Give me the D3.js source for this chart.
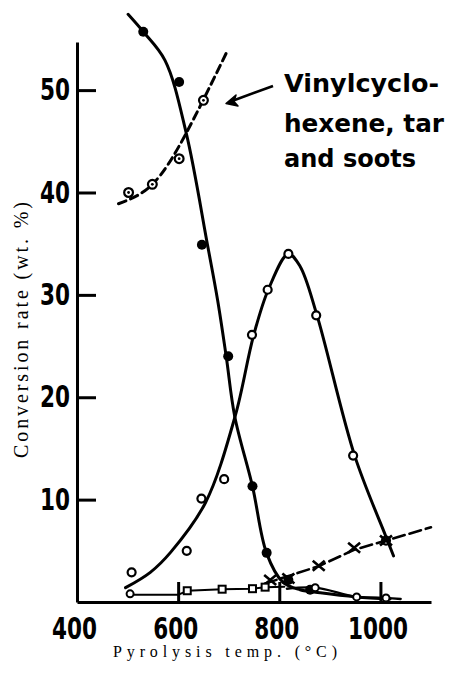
<!DOCTYPE html>
<html>
<head>
<meta charset="utf-8">
<script src="https://cdn.jsdelivr.net/npm/d3@7"></script>
<style>
    html, body { margin: 0; padding: 0; background: #fff; }
    svg { display: block; }
    .axis path, .axis line { stroke: #000; stroke-width: 3; }
    .axis text { font-family: "DejaVu Sans", sans-serif; font-weight: bold; font-size: 30px; fill: #000; }
    .title { font-family: "Liberation Serif", "DejaVu Serif", serif; fill: #000; }
    .note { font-family: "DejaVu Sans", sans-serif; font-weight: bold; font-size: 24px; fill: #000; }
</style>
</head>
<body>
<div id="chart"></div>
<script>
/*
 * Values: pyrolysis temperature (°C) / conversion rate (wt. %).
 */
var tempTicks = [400, 600, 800, 1000];
var rateTicks = [10, 20, 30, 40, 50];

// Vinylcyclohexene, tar and soots (dotted circles, dashed curve)
var vinylTemps = [502, 549, 602, 650];
var vinylRates = [40.0, 40.8, 43.3, 49.0];
var vinylCurveTemps = [482, 549, 616, 695];
var vinylCurveRates = [38.9, 40.8, 45.8, 53.6];

// Falling curve (filled circles)
var fallTemps = [531, 602, 647, 699, 747, 775, 818, 861];
var fallRates = [55.7, 50.8, 34.9, 24.0, 11.3, 4.8, 2.15, 1.2];
var fallCurveTemps = [501, 531, 574, 616, 658, 678, 695, 712, 747, 775, 807, 841, 881, 952, 1019];
var fallCurveRates = [57.4, 55.7, 52.9, 45.8, 34.9, 29.5, 24.0, 18.1, 11.3, 4.75, 1.95, 1.2, 0.9, 0.5, 0.3];

// Peaked curve (open circles)
var peakTemps = [508, 617, 646, 691, 746, 777, 818, 873, 946];
var peakRates = [2.9, 5.0, 10.1, 12.0, 26.1, 30.5, 34.0, 28.0, 14.3];
var peakCurveTemps = [496, 545, 585, 654, 713, 749, 779, 818, 841, 874, 949, 1010, 1026];
var peakCurveRates = [1.4, 2.9, 4.85, 9.7, 18.2, 26.0, 30.6, 34.0, 32.8, 28.1, 14.3, 6.5, 4.5];

// Rising line (crosses)
var crossTemps = [782, 818, 878, 948];
var crossRates = [2.15, 2.3, 3.55, 5.3];
var crossLineTemps = [772, 878, 948, 1011, 1100];
var crossLineRates = [1.8, 3.5, 5.1, 6.0, 7.3];
var crossRingTemps = [1011];
var crossRingRates = [6.0];

// Low lines near the base (small circles and squares)
var squareTemps = [618, 687, 747, 772];
var squareRates = [1.1, 1.25, 1.3, 1.45];
var lowLineTemps = [505, 600, 618, 687, 747, 772, 810];
var lowLineRates = [0.7, 0.7, 1.1, 1.25, 1.3, 1.45, 1.5];
var dotTemps = [505, 871, 953, 1011];
var dotRates = [0.8, 1.4, 0.5, 0.4];
var tailLineTemps = [815, 871, 953, 1011, 1040];
var tailLineRates = [1.3, 1.4, 0.5, 0.4, 0.3];

var noteLines = ['Vinylcyclo-', 'hexene, tar', 'and soots'];
var xTitle = 'Pyrolysis temp. (°C)';
var yTitle = 'Conversion rate (wt. %)';


/**
 * Pairs two value lists into points.
 * @param {Number[]} xs
 * @param {Number[]} ys
 * @returns {Number[][]}
 */
function zip(xs, ys) {

    return xs.map(function(x, i) { return [x, ys[i]]; });
}


/**
 * @public
 * @class
 */
function PyrolysisChart() {
    /*
     * Canvas size.
     */
    this._width  = 449;
    this._height = 687;
    /*
     * Scales.
     */
    this._x = d3.scaleLinear().domain([400, 1100]).range([77, 431]);
    this._y = d3.scaleLinear().domain([0, 54.7]).range([602, 42]);
    /*
     * Curve generators.
     */
    this._smooth = d3.line()
        .x(d => this._x(d[0]))
        .y(d => this._y(d[1]))
        .curve(d3.curveCatmullRom.alpha(0.5));
    this._natural = d3.line()
        .x(d => this._x(d[0]))
        .y(d => this._y(d[1]))
        .curve(d3.curveNatural);
    this._straight = d3.line()
        .x(d => this._x(d[0]))
        .y(d => this._y(d[1]));
}


/**
 * Render chart.
 * @public
 * @param {String} selection
 * @returns {PyrolysisChart}
 */
PyrolysisChart.prototype.renderTo = function(selection) {

    this._svg = d3.select(selection).append('svg')
        .attr('width', this._width)
        .attr('height', this._height);

    this._drawAxes();
    this._drawCurves();
    this._drawMarkers();
    this._drawNote();

    return this;
};


/**
 * Axes, ticks pointing inward, and titles.
 * @private
 */
PyrolysisChart.prototype._drawAxes = function() {

    var svg = this._svg;

    svg.append('g')
        .attr('class', 'axis')
        .attr('transform', 'translate(0,' + this._y(0) + ')')
        .call(d3.axisBottom(this._x)
            .tickValues(tempTicks)
            .tickSizeInner(-20)
            .tickSizeOuter(0)
            .tickPadding(0)
            .tickFormat(d3.format('d')))
        .selectAll('text')
        .attr('y', 37)
        .attr('dy', null)
        .attr('dx', -3);

    svg.append('g')
        .attr('class', 'axis')
        .attr('transform', 'translate(' + this._x(400) + ',0)')
        .call(d3.axisLeft(this._y)
            .tickValues(rateTicks)
            .tickSizeInner(-19)
            .tickSizeOuter(0)
            .tickPadding(7)
            .tickFormat(d3.format('d')));

    /*
     * Narrow the bold digits to the printed width.
     */
    svg.selectAll('.axis text')
        .attr('textLength', d => String(d).length * 15)
        .attr('lengthAdjust', 'spacingAndGlyphs');

    svg.append('text')
        .attr('class', 'title')
        .attr('x', 225)
        .attr('y', 657)
        .attr('font-size', 16)
        .attr('text-anchor', 'middle')
        .attr('textLength', 224)
        .attr('lengthAdjust', 'spacing')
        .text(xTitle);

    svg.append('text')
        .attr('class', 'title')
        .attr('transform', 'translate(28,330) rotate(-90)')
        .attr('font-size', 20)
        .attr('text-anchor', 'middle')
        .attr('textLength', 256)
        .attr('lengthAdjust', 'spacing')
        .text(yTitle);
};


/**
 * Hand drawn curves.
 * @private
 */
PyrolysisChart.prototype._drawCurves = function() {

    var g = this._svg.append('g')
        .attr('fill', 'none')
        .attr('stroke', '#000')
        .attr('stroke-linecap', 'round');

    g.append('path')
        .attr('stroke-width', 3)
        .attr('stroke-dasharray', '8,5')
        .attr('d', this._natural(zip(vinylCurveTemps, vinylCurveRates)));

    g.append('path')
        .attr('stroke-width', 3)
        .attr('d', this._smooth(zip(fallCurveTemps, fallCurveRates)));

    g.append('path')
        .attr('stroke-width', 3)
        .attr('d', this._smooth(zip(peakCurveTemps, peakCurveRates)));

    g.append('path')
        .attr('stroke-width', 2.6)
        .attr('stroke-dasharray', '12,5')
        .attr('d', this._straight(zip(crossLineTemps, crossLineRates)));

    g.append('path')
        .attr('stroke-width', 2)
        .attr('d', this._straight(zip(lowLineTemps, lowLineRates)));

    g.append('path')
        .attr('stroke-width', 2.4)
        .attr('d', this._smooth(zip(tailLineTemps, tailLineRates)));
};


/**
 * Data point symbols.
 * @private
 */
PyrolysisChart.prototype._drawMarkers = function() {

    var self = this;
    var svg  = this._svg;
    var px = d => self._x(d[0]);
    var py = d => self._y(d[1]);

    /*
     * Dotted circles.
     */
    var vinyl = svg.append('g').selectAll('g')
        .data(zip(vinylTemps, vinylRates))
        .join('g')
        .attr('transform', d => 'translate(' + px(d) + ',' + py(d) + ')');
    vinyl.append('circle')
        .attr('r', 4.4)
        .attr('fill', '#fff')
        .attr('stroke', '#000')
        .attr('stroke-width', 2.2);
    vinyl.append('circle')
        .attr('r', 1.4)
        .attr('fill', '#000');

    /*
     * Filled circles.
     */
    svg.append('g').selectAll('circle')
        .data(zip(fallTemps, fallRates))
        .join('circle')
        .attr('cx', px)
        .attr('cy', py)
        .attr('r', 5)
        .attr('fill', '#000');

    /*
     * Open circles.
     */
    svg.append('g').selectAll('circle')
        .data(zip(peakTemps, peakRates))
        .join('circle')
        .attr('cx', px)
        .attr('cy', py)
        .attr('r', 4)
        .attr('fill', '#fff')
        .attr('stroke', '#000')
        .attr('stroke-width', 2.2);

    /*
     * Crosses.
     */
    svg.append('g').selectAll('path')
        .data(zip(crossTemps, crossRates).concat(zip(crossRingTemps, crossRingRates)))
        .join('path')
        .attr('transform', d => 'translate(' + px(d) + ',' + py(d) + ')')
        .attr('d', 'M-6,-5L6,5M-6,5L6,-5')
        .attr('stroke', '#000')
        .attr('stroke-width', 2.6);

    svg.append('g').selectAll('circle')
        .data(zip(crossRingTemps, crossRingRates))
        .join('circle')
        .attr('cx', px)
        .attr('cy', py)
        .attr('r', 4)
        .attr('fill', 'none')
        .attr('stroke', '#000')
        .attr('stroke-width', 2.2);

    /*
     * Small squares and circles near the base line.
     */
    svg.append('g').selectAll('rect')
        .data(zip(squareTemps, squareRates))
        .join('rect')
        .attr('x', d => px(d) - 3.5)
        .attr('y', d => py(d) - 3.5)
        .attr('width', 7)
        .attr('height', 7)
        .attr('fill', '#fff')
        .attr('stroke', '#000')
        .attr('stroke-width', 2);

    svg.append('g').selectAll('circle')
        .data(zip(dotTemps, dotRates))
        .join('circle')
        .attr('cx', px)
        .attr('cy', py)
        .attr('r', 3.5)
        .attr('fill', '#fff')
        .attr('stroke', '#000')
        .attr('stroke-width', 2);
};


/**
 * Hand lettered label with its arrow.
 * @private
 */
PyrolysisChart.prototype._drawNote = function() {

    var svg = this._svg;
    var widths    = [155, 160, 132];
    var baselines = [92, 132, 167];

    svg.append('g').selectAll('text')
        .data(noteLines)
        .join('text')
        .attr('class', 'note')
        .attr('x', 284)
        .attr('y', (d, i) => baselines[i])
        .attr('textLength', (d, i) => widths[i])
        .attr('lengthAdjust', 'spacingAndGlyphs')
        .text(d => d);

    svg.append('line')
        .attr('x1', 273)
        .attr('y1', 86)
        .attr('x2', 232)
        .attr('y2', 101)
        .attr('stroke', '#000')
        .attr('stroke-width', 2.6);

    svg.append('path')
        .attr('d', 'M226,103.5L236,95L234,101.5L238,106Z')
        .attr('fill', '#000')
        .attr('stroke', '#000')
        .attr('stroke-width', 1.5)
        .attr('stroke-linejoin', 'round');
};


PyrolysisChart.prototype.constructor = PyrolysisChart;

new PyrolysisChart().renderTo('#chart');
</script>
</body>
</html>
